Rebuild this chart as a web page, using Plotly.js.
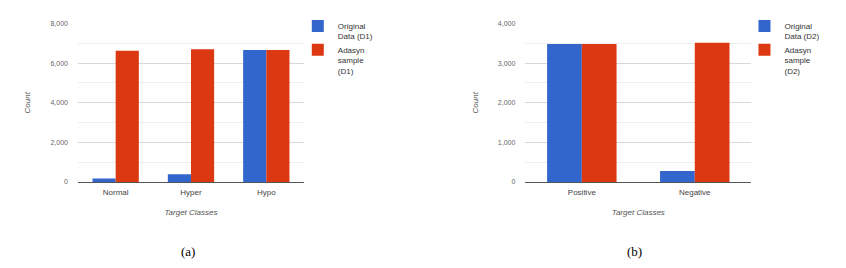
<!DOCTYPE html>
<html>
<head>
<meta charset="utf-8">
<script src="https://cdn.plot.ly/plotly-3.0.1.min.js"></script>
<style>html,body{margin:0;padding:0;background:#fff}#chart{width:846px;height:268px}</style>
</head>
<body>
<div id="chart"></div>
<script>
// Panel (a)
const classesA = ["Normal", "Hyper", "Hypo"];
const originalD1 = [180, 390, 6660];
const adasynD1 = [6630, 6700, 6660];
// Panel (b)
const classesB = ["Positive", "Negative"];
const originalD2 = [3480, 280];
const adasynD2 = [3480, 3515];
const yTicksA = [0, 2000, 4000, 6000, 8000];
const yTicksB = [0, 1000, 2000, 3000, 4000];

const blue = "#3366CC", red = "#DC3912";
const fontFam = "Arial, 'Liberation Sans', sans-serif";

const traces = [
  {type: "bar", x: classesA, y: originalD1, name: "Original<br>Data (D1)", marker: {color: blue}, xaxis: "x", yaxis: "y", legend: "legend"},
  {type: "bar", x: classesA, y: adasynD1, name: "Adasyn<br>sample<br>(D1)", marker: {color: red}, xaxis: "x", yaxis: "y", legend: "legend"},
  {type: "bar", x: classesB, y: originalD2, name: "Original<br>Data (D2)", marker: {color: blue}, xaxis: "x2", yaxis: "y2", legend: "legend2"},
  {type: "bar", x: classesB, y: adasynD2, name: "Adasyn<br>sample<br>(D2)", marker: {color: red}, xaxis: "x2", yaxis: "y2", legend: "legend2"}
];

function yax(range, ticks, minorD, anchor, title) {
  return {
    range: range, tickvals: ticks, tickformat: ",d", anchor: anchor,
    domain: [0.3209, 0.9123],
    showgrid: true, gridcolor: "#d8d8d8", gridwidth: 1,
    minor: {dtick: minorD, showgrid: true, gridcolor: "#eeeeee", ticks: ""},
    zeroline: true, zerolinecolor: "#555", zerolinewidth: 1,
    showline: false, ticks: "", ticklen: 0, ticklabelstandoff: 9,
    tickfont: {size: 7, color: "#666", family: fontFam},
    title: {text: title, font: {size: 8, color: "#555", family: fontFam}, standoff: 18},
    fixedrange: true
  };
}
function xax(domain, anchor) {
  return {
    domain: domain, anchor: anchor, showgrid: false, showline: false, zeroline: false, ticks: "",
    ticklabelstandoff: 4,
    tickfont: {size: 8, color: "#444", family: fontFam},
    title: {text: "<i>Target Classes</i>", font: {size: 8, color: "#555", family: fontFam}, standoff: 13},
    fixedrange: true
  };
}

const legendCommon = {xanchor: "left", yanchor: "top", font: {size: 8, color: "#333", family: fontFam},
  itemwidth: 30, valign: "top", bgcolor: "rgba(0,0,0,0)"};

const layout = {
  width: 846, height: 268,
  margin: {l: 0, r: 0, t: 0, b: 0},
  paper_bgcolor: "#fff", plot_bgcolor: "#fff",
  barmode: "group", bargap: 0.385, bargroupgap: 0,
  font: {family: fontFam},
  showlegend: true,
  xaxis: xax([0.0922, 0.3593], "y"),
  yaxis: yax([0, 8000], yTicksA, 1000, "x", "<i>Count</i>"),
  xaxis2: xax([0.621, 0.888], "y2"),
  yaxis2: yax([0, 4000], yTicksB, 500, "x2", "<i>Count</i>"),
  legend: Object.assign({}, legendCommon, {x: 0.352, y: 0.947}),
  legend2: Object.assign({}, legendCommon, {x: 0.880, y: 0.947}),
  annotations: [
    {text: "(a)", xref: "paper", yref: "paper", x: 188/846, y: 1 - 251/268, xanchor: "center", yanchor: "middle", showarrow: false,
     font: {family: "'Liberation Serif', 'Times New Roman', serif", size: 13, color: "#000"}},
    {text: "(b)", xref: "paper", yref: "paper", x: 634/846, y: 1 - 251/268, xanchor: "center", yanchor: "middle", showarrow: false,
     font: {family: "'Liberation Serif', 'Times New Roman', serif", size: 13, color: "#000"}}
  ]
};

Plotly.newPlot("chart", traces, layout, {displayModeBar: false, staticPlot: true});
</script>
</body>
</html>
